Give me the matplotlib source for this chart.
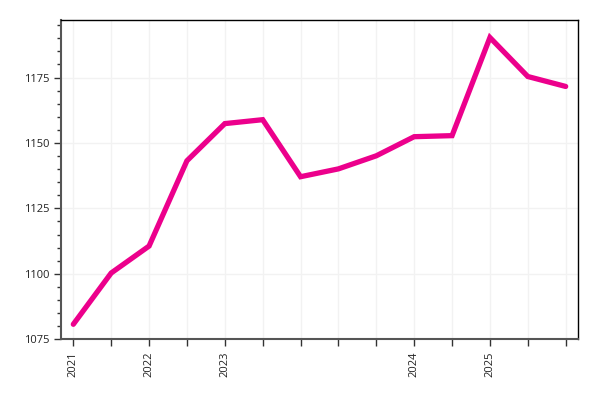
import numpy as np
import matplotlib
matplotlib.use("Agg")
import matplotlib.pyplot as plt
from matplotlib.ticker import MultipleLocator

plt.rcParams['font.family'] = ['Open Sans', 'DejaVu Sans']

values = [1080.7, 1100.3, 1110.6, 1143.2, 1157.4, 1158.9, 1137.1,
          1140.1, 1145.1, 1152.4, 1152.8, 1190.3, 1175.4, 1171.6]
tick_labels = ['2021', '', '2022', '', '2023', '', '', '', '', '2024',
               '', '2025', '', '']

x = np.arange(len(values))

fig, ax = plt.subplots(figsize=(6, 4), dpi=100)
fig.subplots_adjust(left=0.102, right=0.963, top=0.95, bottom=0.152)

ax.plot(x, values, color='#EC008C', linewidth=3.8, solid_capstyle='round',
        solid_joinstyle='miter', zorder=3)

ax.set_xlim(-0.32, len(values) - 1 + 0.32)
ax.set_ylim(1075, 1197)
ax.set_xticks(x)
ax.set_xticklabels(tick_labels, rotation=90, fontsize=8)
ax.yaxis.set_major_locator(MultipleLocator(25))
ax.yaxis.set_minor_locator(MultipleLocator(5))
ax.tick_params(axis='y', labelsize=8)
ax.tick_params(length=5, width=1, color='#333333', labelcolor='#222222')
ax.tick_params(which='minor', length=3, width=1, color='#333333')

ax.grid(True, color='#f2f2f2', linewidth=1)
ax.set_axisbelow(True)

for side in ['left', 'bottom']:
    ax.spines[side].set_color('#555555')
    ax.spines[side].set_linewidth(1.5)
for side in ['top', 'right']:
    ax.spines[side].set_color('black')
    ax.spines[side].set_linewidth(1)

fig.savefig("out.png")
